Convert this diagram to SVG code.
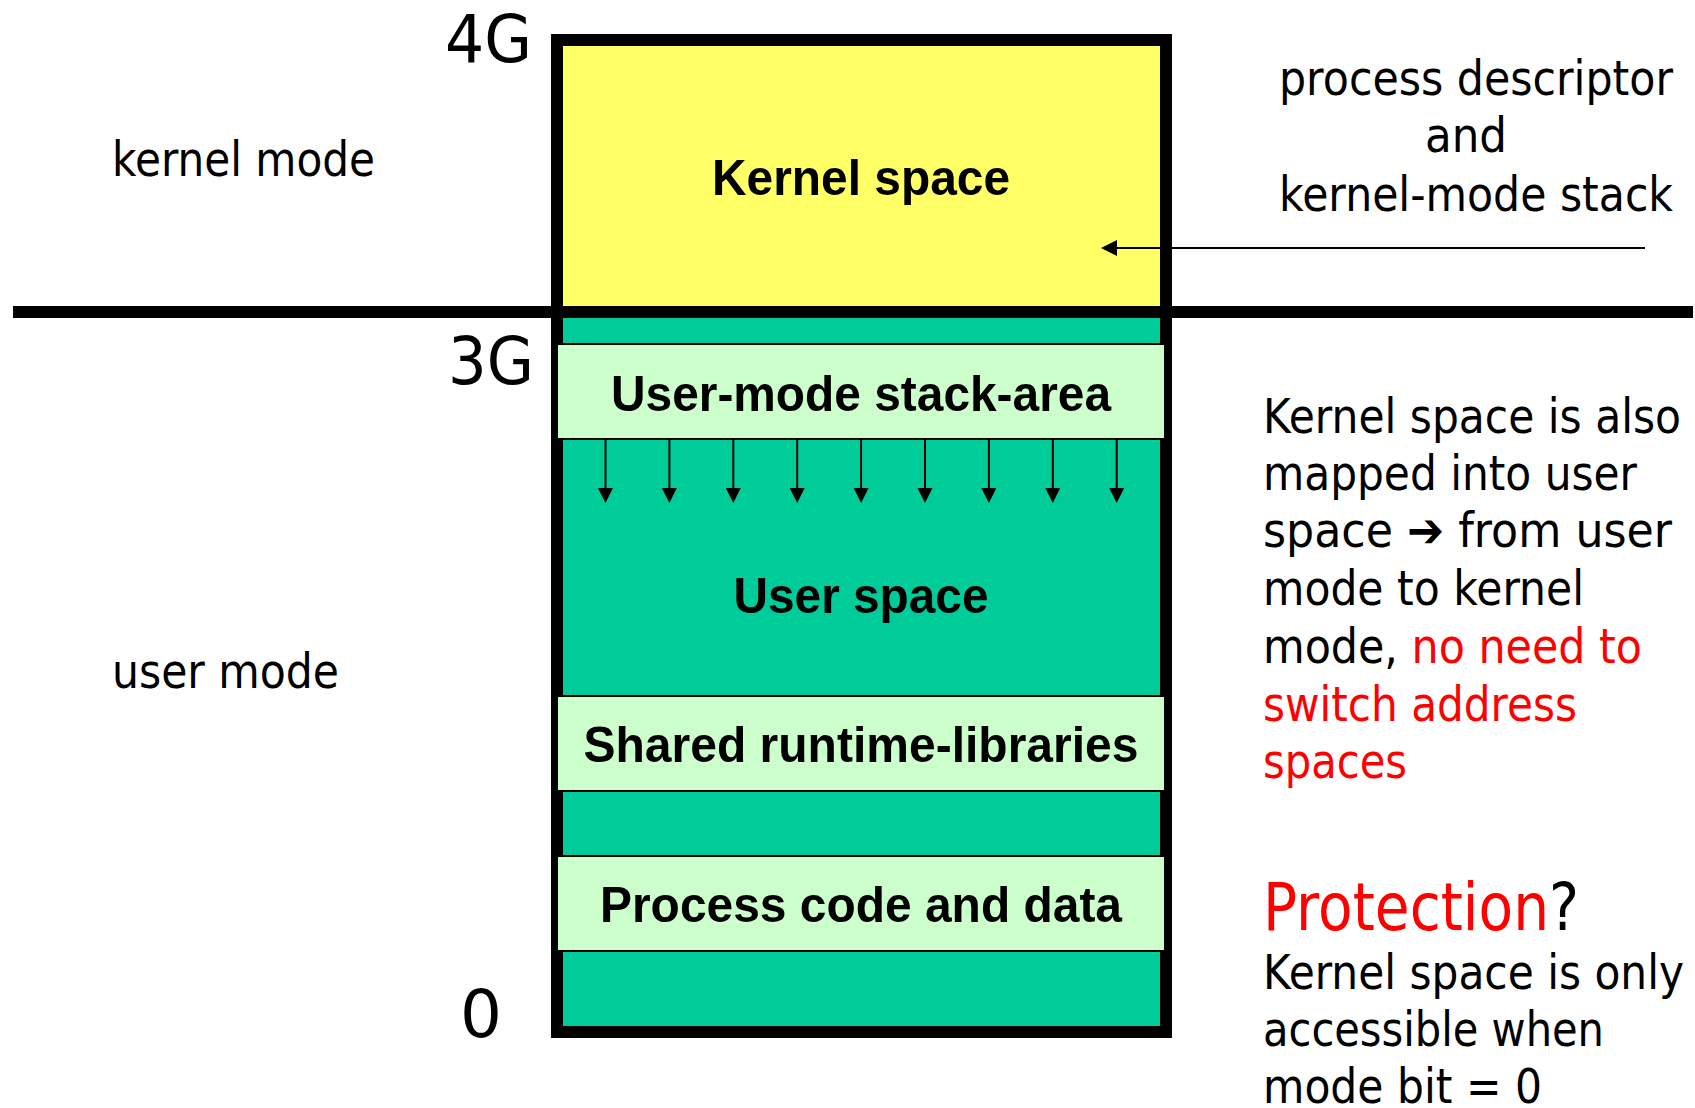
<svg xmlns="http://www.w3.org/2000/svg" width="1695" height="1108" viewBox="0 0 1695 1108">
<style>
.lbl{font-family:"DejaVu Sans",sans-serif;font-size:48px;fill:#000}
.red{fill:#FF0000}
.big{font-family:"Liberation Sans",Arial,sans-serif;font-weight:bold;font-size:50px;fill:#000;text-anchor:middle}
.addr{font-family:"DejaVu Sans",sans-serif;font-size:66px;fill:#000}
.box{fill:#CCFFCC;stroke:#000;stroke-width:2}
.conn{stroke:#000;stroke-width:2;fill:none}
</style>
<defs>
<marker id="ahs" markerUnits="userSpaceOnUse" markerWidth="16" markerHeight="16" refX="2" refY="7.5" orient="auto">
<path d="M0,0 L15,7.5 L0,15 z" fill="#000"/>
</marker>
<marker id="ahb" markerUnits="userSpaceOnUse" markerWidth="18" markerHeight="18" refX="2" refY="8" orient="auto">
<path d="M0,0 L16,8 L0,16 z" fill="#000"/>
</marker>
</defs>
<rect width="1695" height="1108" fill="#FFFFFF"/>

<g id="kernel-space">
<rect x="557" y="40" width="609" height="272" fill="#FFFF66"/>
<text class="big" x="861" y="195" textLength="298" lengthAdjust="spacingAndGlyphs">Kernel space</text>
</g>
<g id="user-space">
<rect x="557" y="312" width="609" height="720" fill="#00CC99"/>
<text class="big" x="861" y="613" textLength="255" lengthAdjust="spacingAndGlyphs">User space</text>
</g>
<g id="mode-divider">
<line x1="13" y1="312" x2="1693" y2="312" stroke="#000" stroke-width="12"/>
</g>
<g id="address-space-border">
<rect x="557" y="40" width="609" height="992" fill="none" stroke="#000" stroke-width="12"/>
</g>
<g id="user-stack">
<rect class="box" x="557" y="344" width="608" height="95"/>
<text class="big" x="861" y="411" textLength="500" lengthAdjust="spacingAndGlyphs">User-mode stack-area</text>
</g>
<g id="shared-libs">
<rect class="box" x="557" y="696" width="608" height="95"/>
<text class="big" x="861" y="762" textLength="555" lengthAdjust="spacingAndGlyphs">Shared runtime-libraries</text>
</g>
<g id="process-code">
<rect class="box" x="557" y="856" width="608" height="95"/>
<text class="big" x="861" y="922" textLength="522" lengthAdjust="spacingAndGlyphs">Process code and data</text>
</g>

<g id="connectors">
<line class="conn" x1="605.5" y1="440" x2="605.5" y2="490" marker-end="url(#ahs)"/>
<line class="conn" x1="669.4" y1="440" x2="669.4" y2="490" marker-end="url(#ahs)"/>
<line class="conn" x1="733.3" y1="440" x2="733.3" y2="490" marker-end="url(#ahs)"/>
<line class="conn" x1="797.2" y1="440" x2="797.2" y2="490" marker-end="url(#ahs)"/>
<line class="conn" x1="861.1" y1="440" x2="861.1" y2="490" marker-end="url(#ahs)"/>
<line class="conn" x1="925" y1="440" x2="925" y2="490" marker-end="url(#ahs)"/>
<line class="conn" x1="988.9" y1="440" x2="988.9" y2="490" marker-end="url(#ahs)"/>
<line class="conn" x1="1052.8" y1="440" x2="1052.8" y2="490" marker-end="url(#ahs)"/>
<line class="conn" x1="1116.7" y1="440" x2="1116.7" y2="490" marker-end="url(#ahs)"/>
<line class="conn" x1="1645" y1="248" x2="1115" y2="248" marker-end="url(#ahb)"/>
</g>

<g id="address-labels">
<text class="addr" x="445" y="62" textLength="87" lengthAdjust="spacingAndGlyphs">4G</text>
<text class="addr" x="448" y="384" textLength="86" lengthAdjust="spacingAndGlyphs">3G</text>
<text class="addr" x="460" y="1037">0</text>
</g>

<g id="mode-labels">
<text class="lbl" x="112" y="176" textLength="263" lengthAdjust="spacingAndGlyphs">kernel mode</text>
<text class="lbl" x="112" y="688" textLength="227" lengthAdjust="spacingAndGlyphs">user mode</text>
</g>

<g id="descriptor-note">
<text class="lbl" x="1279" y="95" textLength="394" lengthAdjust="spacingAndGlyphs">process descriptor</text>
<text class="lbl" x="1425" y="152" textLength="82" lengthAdjust="spacingAndGlyphs">and</text>
<text class="lbl" x="1279" y="211" textLength="394" lengthAdjust="spacingAndGlyphs">kernel-mode stack</text>
</g>

<g id="mapping-note">
<text class="lbl" x="1263" y="433" textLength="418" lengthAdjust="spacingAndGlyphs">Kernel space is also</text>
<text class="lbl" x="1263" y="490" textLength="374" lengthAdjust="spacingAndGlyphs">mapped into user</text>
<text class="lbl" x="1263" y="547" textLength="409" lengthAdjust="spacingAndGlyphs">space <tspan style="font-weight:bold">➔</tspan> from user</text>
<text class="lbl" x="1263" y="605" textLength="321" lengthAdjust="spacingAndGlyphs">mode to kernel</text>
<text class="lbl" x="1263" y="663" textLength="379" lengthAdjust="spacingAndGlyphs">mode, <tspan class="red">no need to</tspan></text>
<text class="lbl red" x="1263" y="721" textLength="314" lengthAdjust="spacingAndGlyphs">switch address</text>
<text class="lbl red" x="1263" y="778" textLength="144" lengthAdjust="spacingAndGlyphs">spaces</text>
</g>

<g id="protection-note">
<text class="lbl" x="1263" y="930" style="font-size:65px" textLength="316" lengthAdjust="spacingAndGlyphs"><tspan class="red">Protection</tspan>?</text>
<text class="lbl" x="1263" y="989" textLength="421" lengthAdjust="spacingAndGlyphs">Kernel space is only</text>
<text class="lbl" x="1263" y="1046" textLength="341" lengthAdjust="spacingAndGlyphs">accessible when</text>
<text class="lbl" x="1263" y="1103" textLength="279" lengthAdjust="spacingAndGlyphs">mode bit = 0</text>
</g>
</svg>
